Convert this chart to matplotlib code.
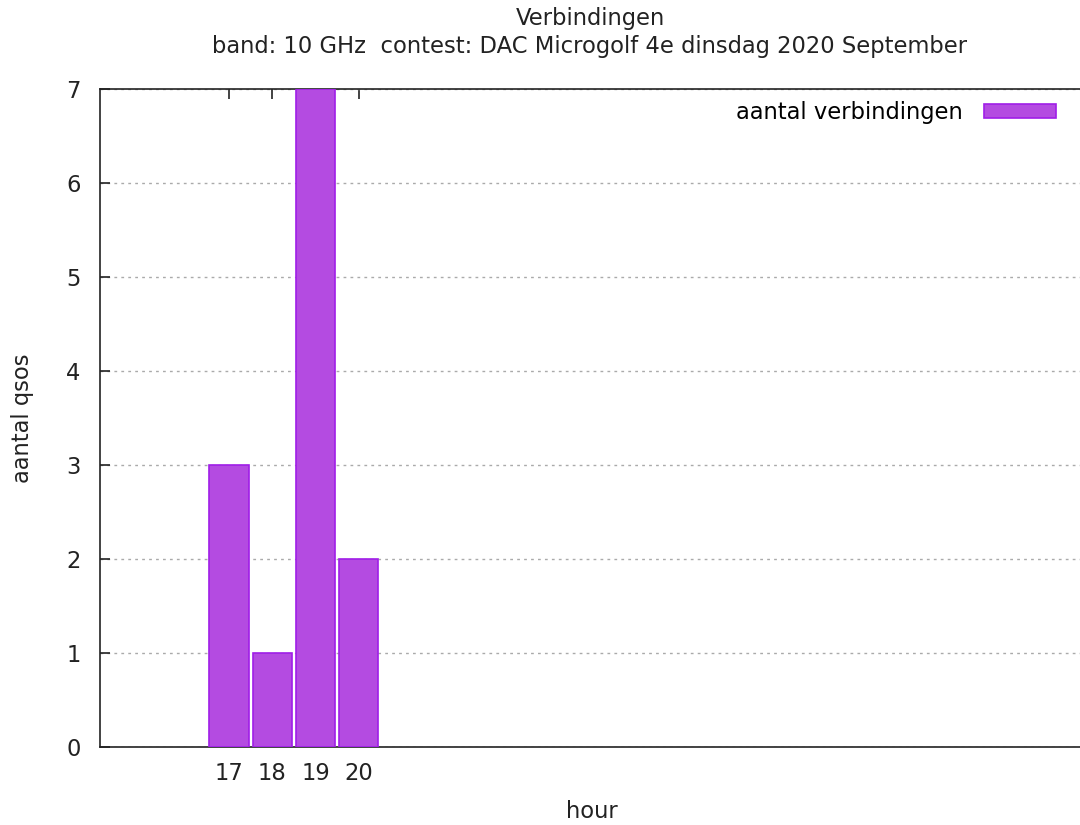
import matplotlib.pyplot as plt
import numpy as np

# data
hours = [17, 18, 19, 20]
qsos = [3, 1, 7, 2]
title_lines = ["Verbindingen", "band: 10 GHz  contest: DAC Microgolf 4e dinsdag 2020 September"]

plt.rcParams['font.family'] = ['DejaVu Sans']

W, H = 1080, 825
fs = 16.3
fig = plt.figure(figsize=(W / 100, H / 100), dpi=100)
ax = fig.add_axes([100 / W, 1 - 747 / H, 1 - 100 / W + 0.002, (747 - 89) / H])

ax.bar(hours, qsos, width=0.92, color='#b44be1', edgecolor='#a01ee8',
       linewidth=1.2, label='aantal verbindingen', zorder=3)

ax.set_xlim(14, 14 + 980 / 43)
ax.set_ylim(0, 7)
ax.set_xticks(hours)
ax.set_yticks(range(8))
ax.tick_params(axis='both', direction='in', length=7, width=1.2, labelsize=fs,
               colors='#222222', top=True, right=False)
ax.tick_params(axis='x', pad=11)
ax.tick_params(axis='y', pad=14)
ax.grid(axis='y', linestyle=(0, (2, 3)), color='#aaaaaa', linewidth=1, zorder=0)
for s in ax.spines.values():
    s.set_color('#222222')
    s.set_linewidth(1.2)

fig.text(592 / W, 1 - 812 / H, 'hour', ha='center', va='center', fontsize=fs, color='#222222')
fig.text(22 / W, 1 - 418 / H, 'aantal qsos', ha='center', va='center', rotation=90,
         fontsize=fs, color='#222222')
fig.text(590 / W, 1 - 18 / H, title_lines[0], ha='center', va='center', fontsize=fs, color='#222222')
fig.text(590 / W, 1 - 47 / H, title_lines[1], ha='center', va='center', fontsize=fs, color='#222222')

ax.legend(loc='upper right', bbox_to_anchor=(1 - 8 / 980, 1.0 + 6 / 658), frameon=False,
          markerfirst=False, fontsize=fs, handlelength=3.2, handleheight=0.55,
          handletextpad=0.9, borderaxespad=0.4)

fig.savefig('out.png', dpi=100)
